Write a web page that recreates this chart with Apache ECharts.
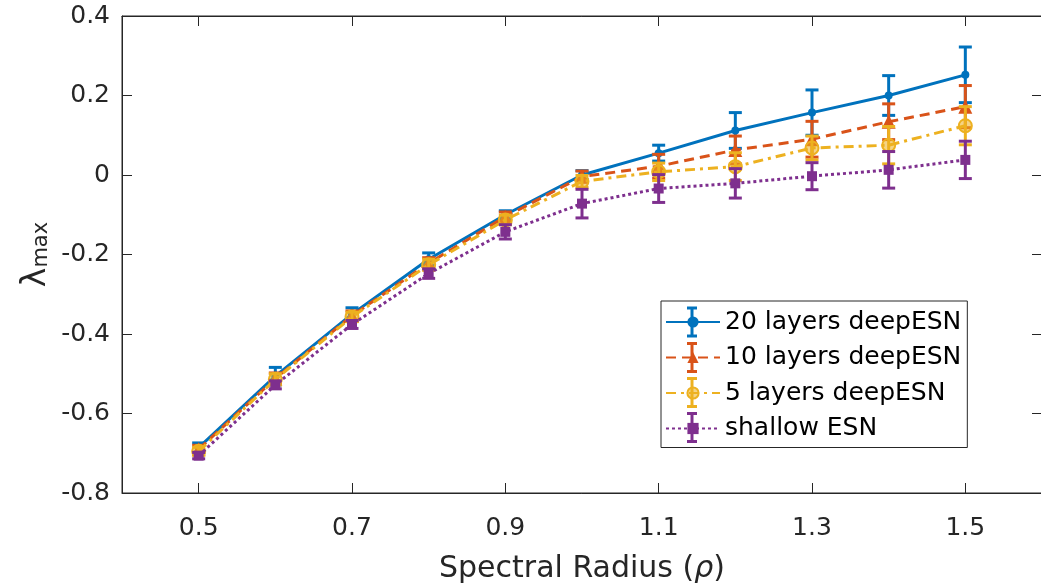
<!DOCTYPE html>
<html>
<head>
<meta charset="utf-8">
<script src="https://cdn.jsdelivr.net/npm/echarts@6/dist/echarts.min.js"></script>
<style>
  html, body { margin: 0; padding: 0; background: #fff; }
  #chart { width: 1041px; height: 587px; }
</style>
</head>
<body>
<div id="chart"></div>
<script>
// spectral radius values
var rho = [0.5, 0.6, 0.7, 0.8, 0.9, 1.0, 1.1, 1.2, 1.3, 1.4, 1.5];
var xTicks = [0.5, 0.7, 0.9, 1.1, 1.3, 1.5];

// lambda max
var deep20 = [-0.686, -0.506, -0.350, -0.212, -0.100, 0.000, 0.055, 0.112, 0.157, 0.200, 0.252];
var deep20Err = [0.012, 0.022, 0.016, 0.016, 0.010, 0.011, 0.020, 0.045, 0.057, 0.050, 0.070];
var deep10 = [-0.690, -0.512, -0.354, -0.222, -0.105, -0.004, 0.022, 0.063, 0.090, 0.134, 0.172];
var deep10Err = [0.010, 0.014, 0.012, 0.014, 0.012, 0.014, 0.030, 0.035, 0.045, 0.045, 0.053];
var deep5 = [-0.695, -0.514, -0.357, -0.226, -0.113, -0.016, 0.008, 0.021, 0.068, 0.075, 0.124];
var deep5Err = [0.010, 0.014, 0.012, 0.014, 0.012, 0.015, 0.022, 0.035, 0.030, 0.047, 0.048];
var shallow = [-0.706, -0.528, -0.376, -0.248, -0.143, -0.072, -0.034, -0.021, -0.003, 0.013, 0.038];
var shallowErr = [0.008, 0.010, 0.010, 0.012, 0.018, 0.036, 0.035, 0.037, 0.034, 0.046, 0.047];

var names = ['20 layers deepESN', '10 layers deepESN', '5 layers deepESN', 'shallow ESN'];
var colors = ['#0072BD', '#D95319', '#EDB120', '#7E2F8E'];

const chart = echarts.init(document.getElementById('chart'));
var font = 'DejaVu Sans';
var axisCol = '#262626';

function errBars(vals, errs) {
  return rho.map(function (x, i) { return [x, vals[i] - errs[i], vals[i] + errs[i]]; });
}

function errSeries(vals, errs, color, z) {
  return {
    type: 'custom',
    z: z,
    silent: true,
    data: errBars(vals, errs),
    renderItem: function (params, api) {
      var lo = api.coord([api.value(0), api.value(1)]);
      var hi = api.coord([api.value(0), api.value(2)]);
      var w = 6.5;
      var st = { stroke: color, lineWidth: 3 };
      return {
        type: 'group',
        children: [
          { type: 'line', shape: { x1: lo[0], y1: lo[1], x2: hi[0], y2: hi[1] }, style: st },
          { type: 'line', shape: { x1: lo[0] - w, y1: lo[1], x2: lo[0] + w, y2: lo[1] }, style: st },
          { type: 'line', shape: { x1: hi[0] - w, y1: hi[1], x2: hi[0] + w, y2: hi[1] }, style: st }
        ]
      };
    }
  };
}

function lineSeries(name, vals, color, dash, symbol, size, fill, z) {
  return {
    name: name,
    type: 'line',
    z: z,
    data: rho.map(function (x, i) { return [x, vals[i]]; }),
    symbol: symbol,
    symbolSize: size,
    showAllSymbol: true,
    lineStyle: { color: color, width: 3, type: dash },
    itemStyle: { color: fill, borderColor: color, borderWidth: symbol === 'circle' && size > 9 ? 2 : 0 },
    emphasis: { disabled: true },
    animation: false
  };
}

var series = [
  errSeries(deep20, deep20Err, colors[0], 10),
  lineSeries(names[0], deep20, colors[0], 'solid', 'circle', 8, colors[0], 11),
  errSeries(deep10, deep10Err, colors[1], 12),
  lineSeries(names[1], deep10, colors[1], [10, 6], 'triangle', 14, colors[1], 13),
  errSeries(deep5, deep5Err, colors[2], 14),
  lineSeries(names[2], deep5, colors[2], [10, 5, 3, 5], 'circle', 13, 'rgba(237,177,32,0.55)', 15),
  errSeries(shallow, shallowErr, colors[3], 16),
  lineSeries(names[3], shallow, colors[3], [3, 3], 'rect', 10, colors[3], 17)
];

// I-beams drawn over the legend icons
var legendRows = [322, 357.5, 392.5, 427.5];
var legendBeams = [];
legendRows.forEach(function (y, i) {
  var x = 692, h = 14, w = 5;
  var st = { stroke: colors[i], lineWidth: 3 };
  legendBeams.push({ type: 'line', z: 200, shape: { x1: x, y1: y - h, x2: x, y2: y + h }, style: st });
  legendBeams.push({ type: 'line', z: 200, shape: { x1: x - w, y1: y - h, x2: x + w, y2: y - h }, style: st });
  legendBeams.push({ type: 'line', z: 200, shape: { x1: x - w, y1: y + h, x2: x + w, y2: y + h }, style: st });
});

var option = {
  animation: false,
  backgroundColor: '#fff',
  grid: { left: 122, top: 16, width: 920, height: 477, show: true, borderColor: axisCol, borderWidth: 1, outerBoundsMode: 'none', containLabel: false },
  xAxis: [{
    type: 'value', min: 0.4, max: 1.6,
    name: '{n|Spectral Radius (}{i|ρ}{n|)}',
    nameLocation: 'middle', nameGap: 61, nameMoveOverlap: false,
    nameTextStyle: { rich: { n: { fontFamily: font, fontSize: 30, color: axisCol }, i: { fontFamily: font, fontSize: 30, fontStyle: 'italic', color: axisCol } } },
    axisLine: { show: true, onZero: false, lineStyle: { color: axisCol } },
    axisTick: { inside: true, length: 10, customValues: xTicks, lineStyle: { color: axisCol } },
    axisLabel: { customValues: xTicks, margin: 23, fontFamily: font, fontSize: 25, color: axisCol, formatter: function (v) { return v.toFixed(1); } },
    splitLine: { show: false }
  }, {
    type: 'value', min: 0.4, max: 1.6, position: 'top',
    axisLine: { show: true, onZero: false, lineStyle: { color: axisCol } },
    axisTick: { inside: true, length: 10, customValues: xTicks, lineStyle: { color: axisCol } },
    axisLabel: { show: false },
    splitLine: { show: false }
  }],
  yAxis: [{
    type: 'value', min: -0.8, max: 0.4, interval: 0.2,
    name: '{l|λ}{m|max}',
    nameLocation: 'middle', nameGap: 70, nameRotate: 90, nameMoveOverlap: false,
    nameTextStyle: { rich: {
      l: { fontFamily: font, fontSize: 33, color: axisCol, lineHeight: 32, verticalAlign: 'top', padding: [0, 0, 14, 0] },
      m: { fontFamily: font, fontSize: 21, color: axisCol, lineHeight: 18, verticalAlign: 'bottom' }
    } },
    axisLine: { show: true, onZero: false, lineStyle: { color: axisCol } },
    axisTick: { inside: true, length: 10, lineStyle: { color: axisCol } },
    axisLabel: { margin: 12, fontFamily: font, fontSize: 25, color: axisCol, formatter: function (v) { return +v.toFixed(1) + ''; } },
    splitLine: { show: false }
  }, {
    type: 'value', min: -0.8, max: 0.4, interval: 0.2, position: 'right',
    axisLine: { show: true, onZero: false, lineStyle: { color: axisCol } },
    axisTick: { inside: true, length: 10, lineStyle: { color: axisCol } },
    axisLabel: { show: false },
    splitLine: { show: false }
  }],
  legend: {
    orient: 'vertical', left: 661, top: 301,
    padding: [8, 6, 6, 4],
    itemWidth: 54, itemHeight: 14, itemGap: 9.5,
    backgroundColor: '#fff', borderColor: axisCol, borderWidth: 1, borderRadius: 0,
    textStyle: { fontFamily: font, fontSize: 25, lineHeight: 26, color: '#000' },
    data: names
  },
  graphic: legendBeams,
  series: series
};

chart.setOption(option);
</script>
</body>
</html>
